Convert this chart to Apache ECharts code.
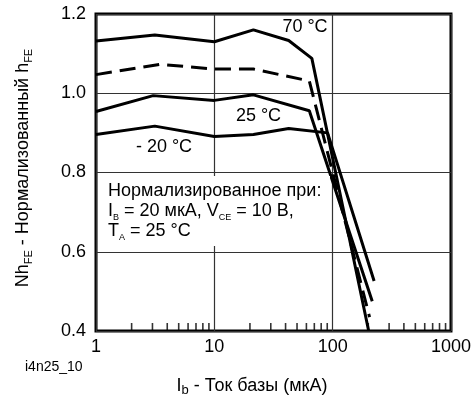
<!DOCTYPE html>
<html>
<head>
<meta charset="utf-8">
<script src="https://cdn.jsdelivr.net/npm/echarts@6/dist/echarts.min.js"></script>
<style>html,body{margin:0;padding:0;background:#fff;}#c{width:474px;height:396px;}</style>
</head>
<body>
<div id="c"></div>
<script>
// Data
const ib70 = [1, 3.14, 10, 21.4, 42.5, 66.7, 201];
const nh70 = [1.132, 1.147, 1.130, 1.160, 1.133, 1.088, 0.402];
const ib50 = [1, 3.46, 10, 21.4, 63.5, 205];
const nh50 = [1.047, 1.073, 1.061, 1.061, 1.031, 0.435];
const ib25 = [1, 3.04, 10, 21.4, 63.5, 216];
const nh25 = [0.954, 0.994, 0.982, 0.996, 0.956, 0.475];
const ibm20 = [1, 3.14, 10, 21.4, 42.5, 90.6, 224];
const nhm20 = [0.896, 0.917, 0.891, 0.896, 0.911, 0.900, 0.526];
const minorTickValues = [2,3,4,5,6,7,8,9,20,30,40,50,60,70,80,90,200,300,400,500,600,700,800,900];
const yTicks = [0.4, 0.6, 0.8, 1.0, 1.2];

const FONT = "'Liberation Sans', Arial, sans-serif";
const pair = (xs, ys) => xs.map((x, i) => [x, ys[i]]);

const chart = echarts.init(document.getElementById('c'), null, {renderer: 'canvas'});
const lineBase = {type: 'line', symbol: 'none', smooth: false, silent: true, animation: false};

chart.setOption({
  animation: false,
  backgroundColor: '#fff',
  grid: {left: 96, right: 22, top: 14, bottom: 65, show: true, borderColor: '#000', borderWidth: 3, backgroundColor: 'transparent'},
  xAxis: {
    type: 'log', logBase: 10, min: 1, max: 1000,
    axisLine: {show: false}, axisTick: {show: false},
    splitLine: {show: true, lineStyle: {color: '#333', width: 1.2}},
    axisLabel: {fontSize: 18, color: '#000', fontFamily: FONT, margin: 7, formatter: v => String(Math.round(v))}
  },
  yAxis: {
    type: 'value', min: yTicks[0], max: yTicks[yTicks.length - 1], interval: 0.2,
    axisLine: {show: false}, axisTick: {show: false},
    splitLine: {show: true, lineStyle: {color: '#333', width: 1.2}},
    axisLabel: {fontSize: 18, color: '#000', fontFamily: FONT, margin: 10, formatter: v => v.toFixed(1)}
  },
  series: [
    Object.assign({}, lineBase, {name: '70 °C', data: pair(ib70, nh70), lineStyle: {color: '#000', width: 3}, z: 4}),
    Object.assign({}, lineBase, {name: '50 °C', data: pair(ib50, nh50), lineStyle: {color: '#000', width: 3, type: [16, 8]}, z: 4}),
    Object.assign({}, lineBase, {name: '25 °C', data: pair(ib25, nh25), lineStyle: {color: '#000', width: 3}, z: 4}),
    Object.assign({}, lineBase, {name: '-20 °C', data: pair(ibm20, nhm20), lineStyle: {color: '#000', width: 3}, z: 4}),
    {type: 'scatter', silent: true, animation: false, clip: false, z: 6,
     data: minorTickValues.map(v => [v, yTicks[0]]),
     symbol: 'rect', symbolSize: [1.6, 7], symbolOffset: [0, -4.5],
     itemStyle: {color: '#000'}}
  ],
  graphic: [
    {type: 'rect', z: 5, shape: {x: 98, y: 176, width: 232, height: 70}, style: {fill: '#fff'}},
    {type: 'text', z: 7, x: 108, y: 191.5, style: {text: 'Нормализированное при:', font: '18px ' + FONT, fill: '#000', textVerticalAlign: 'middle'}},
    {type: 'text', z: 7, x: 108, y: 211, style: {
      text: 'I{s|B} = 20 мкА, V{s|CE} = 10 В,', fill: '#000', textVerticalAlign: 'middle',
      fontSize: 18, fontFamily: FONT, lineHeight: 22,
      rich: {s: {fontSize: 9, fontFamily: FONT, lineHeight: 9, verticalAlign: 'bottom', fill: '#000'}}}},
    {type: 'text', z: 7, x: 108, y: 231, style: {
      text: 'T{s|A} = 25 °C', fill: '#000', textVerticalAlign: 'middle',
      fontSize: 18, fontFamily: FONT, lineHeight: 22,
      rich: {s: {fontSize: 9, fontFamily: FONT, lineHeight: 9, verticalAlign: 'bottom', fill: '#000'}}}},
    {type: 'text', z: 7, x: 305, y: 27, style: {text: '70 °C', font: '18px ' + FONT, fill: '#000', textAlign: 'center', textVerticalAlign: 'middle'}},
    {type: 'text', z: 7, x: 258.5, y: 116, style: {text: '25 °C', font: '18px ' + FONT, fill: '#000', textAlign: 'center', textVerticalAlign: 'middle'}},
    {type: 'text', z: 7, x: 164, y: 147.5, style: {text: '- 20 °C', font: '18px ' + FONT, fill: '#000', textAlign: 'center', textVerticalAlign: 'middle'}},
    {type: 'text', z: 7, x: 25, y: 367, style: {text: 'i4n25_10', font: '14px ' + FONT, fill: '#000', textVerticalAlign: 'middle'}},
    {type: 'text', z: 7, x: 252, y: 386, style: {
      text: 'I{s|b} - Ток базы (мкА)', fill: '#000', textAlign: 'center', textVerticalAlign: 'middle',
      fontSize: 18, fontFamily: FONT, lineHeight: 22,
      rich: {s: {fontSize: 13, fontFamily: FONT, lineHeight: 13, verticalAlign: 'bottom', fill: '#000'}}}},
    {type: 'text', z: 7, x: 23, y: 168, rotation: Math.PI / 2, style: {
      text: 'Nh{s|FE} - Нормализованный h{s|FE}', fill: '#000', textAlign: 'center', textVerticalAlign: 'middle',
      fontSize: 18, fontFamily: FONT, lineHeight: 22,
      rich: {s: {fontSize: 11, fontFamily: FONT, lineHeight: 11, verticalAlign: 'bottom', fill: '#000'}}}}
  ]
});
</script>
</body>
</html>
